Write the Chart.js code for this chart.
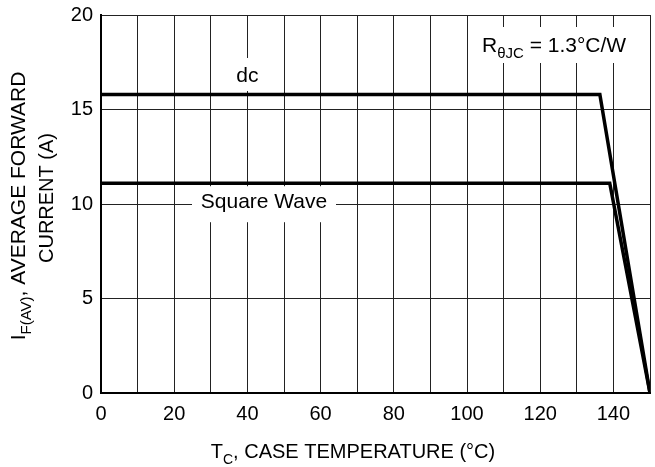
<!DOCTYPE html>
<html>
<head>
<meta charset="utf-8">
<script src="https://cdn.jsdelivr.net/npm/chart.js@4.4.1/dist/chart.umd.min.js"></script>
<style>
  body { margin: 0; background: #fff; }
  #wrap { width: 655px; height: 467px; }
</style>
</head>
<body>
<div id="wrap"><canvas id="derating"></canvas></div>
<script>
// case temperature (C) vs average forward current (A)
const dcTemp = [0, 136.3, 150];
const dcCurrent = [15.8, 15.8, 0];
const squareTemp = [0, 139, 150];
const squareCurrent = [11.1, 11.1, 0];

const xTickLabels = [0, 20, 40, 60, 80, 100, 120, 140];
const yTickLabels = [0, 5, 10, 15, 20];

const FONT = '"Liberation Sans", Arial, Helvetica, sans-serif';

function toPoints(xs, ys) {
    return xs.map((x, i) => ({ x: x, y: ys[i] }));
}

// draws text made of normal + subscript parts
function drawRich(ctx, parts, size, x, y, align) {
    const subSize = Math.round(size * 0.72);
    let total = 0;
    parts.forEach(p => {
        ctx.font = (p.sub ? subSize : size) + 'px ' + FONT;
        p.w = ctx.measureText(p.t).width;
        total += p.w;
    });
    let cx = align === 'center' ? x - total / 2 : x;
    ctx.textAlign = 'left';
    ctx.textBaseline = 'alphabetic';
    parts.forEach(p => {
        ctx.font = (p.sub ? subSize : size) + 'px ' + FONT;
        ctx.fillText(p.t, cx, p.sub ? y + size * 0.28 : y);
        cx += p.w;
    });
    return total;
}

const labelPlugin = {
    id: 'labels',
    afterDatasetsDraw(chart) {
        const ctx = chart.ctx;
        const xs = chart.scales.x, ys = chart.scales.y;
        ctx.save();
        ctx.fillStyle = '#fff';
        // white boxes behind the in-plot labels
        ctx.fillRect(470, 27, 178, 36);
        ctx.fillRect(xs.getPixelForValue(40) - 15, 58, 30, 33);
        ctx.fillRect(192, ys.getPixelForValue(11.1) + 3, 144, 36);
        ctx.fillStyle = '#000';
        drawRich(ctx, [{ t: 'R' }, { t: 'θJC', sub: true }, { t: ' = 1.3°C/W' }], 21, 482, 52, 'left');
        drawRich(ctx, [{ t: 'dc' }], 21, xs.getPixelForValue(40), 82, 'center');
        drawRich(ctx, [{ t: 'Square Wave' }], 21, 264, 208, 'center');
        ctx.restore();
    },
    afterDraw(chart) {
        const ctx = chart.ctx;
        ctx.save();
        ctx.fillStyle = '#000';
        drawRich(ctx, [{ t: 'T' }, { t: 'C', sub: true }, { t: ', CASE TEMPERATURE (°C)' }], 20, 353, 458, 'center');
        ctx.translate(25, 206);
        ctx.rotate(-Math.PI / 2);
        drawRich(ctx, [{ t: 'I' }, { t: 'F(AV)', sub: true }, { t: ', AVERAGE FORWARD' }], 21, 0, 0, 'center');
        ctx.restore();
        ctx.save();
        ctx.fillStyle = '#000';
        ctx.translate(53, 198);
        ctx.rotate(-Math.PI / 2);
        drawRich(ctx, [{ t: 'CURRENT (A)' }], 20, 0, 0, 'center');
        ctx.restore();
    }
};

document.addEventListener('DOMContentLoaded', function() {
    const ctx = document.getElementById('derating').getContext('2d');
    new Chart(ctx, {
        type: 'scatter',
        data: {
            datasets: [{
                label: 'dc',
                data: toPoints(dcTemp, dcCurrent),
                showLine: true,
                borderColor: '#000',
                borderWidth: 3.5,
                pointRadius: 0,
                fill: false
            }, {
                label: 'Square Wave',
                data: toPoints(squareTemp, squareCurrent),
                showLine: true,
                borderColor: '#000',
                borderWidth: 3.5,
                pointRadius: 0,
                fill: false
            }]
        },
        options: {
            responsive: true,
            maintainAspectRatio: false,
            animation: false,
            layout: { padding: { left: 0, top: 15, right: 5, bottom: 0 } },
            scales: {
                x: {
                    type: 'linear',
                    min: 0,
                    max: 150,
                    afterFit: s => {
                        s.height = 74;
                        s.paddingLeft = 0;
                        s.paddingRight = 0;
                    },
                    afterBuildTicks: s => {
                        s.ticks = [];
                        for (let v = 0; v <= 150; v += 10) s.ticks.push({ value: v });
                    },
                    ticks: {
                        color: '#000',
                        font: { family: FONT, size: 20 },
                        padding: 9,
                        maxRotation: 0,
                        autoSkip: false,
                        callback: v => xTickLabels.includes(v) ? v : ''
                    },
                    grid: { color: '#222', lineWidth: 1, drawTicks: false },
                    border: { color: '#000', width: 2 }
                },
                y: {
                    min: 0,
                    max: 20,
                    afterFit: s => {
                        s.width = 101;
                        s.paddingTop = 0;
                        s.paddingBottom = 0;
                    },
                    afterBuildTicks: s => {
                        s.ticks = yTickLabels.map(v => ({ value: v }));
                    },
                    ticks: {
                        color: '#000',
                        font: { family: FONT, size: 20 },
                        padding: 8
                    },
                    grid: { color: '#222', lineWidth: 1, drawTicks: false },
                    border: { color: '#000', width: 2 }
                }
            },
            plugins: {
                legend: { display: false },
                tooltip: { enabled: false }
            }
        },
        plugins: [labelPlugin]
    });
});
</script>
</body>
</html>
